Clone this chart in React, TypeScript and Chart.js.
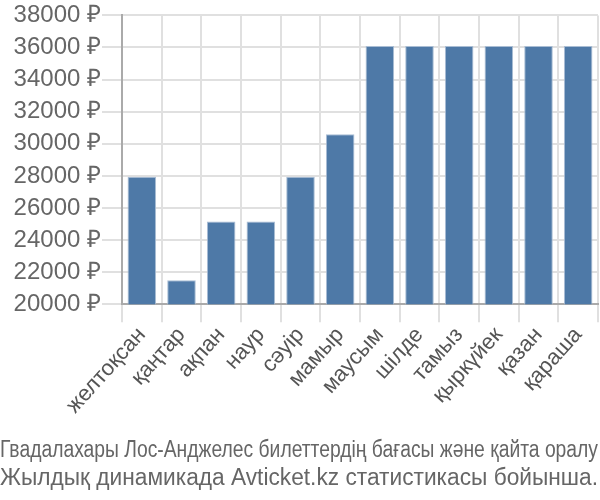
import React, { useEffect, useRef } from "react";
import { Chart, registerables } from "chart.js";

Chart.register(...registerables);

const categories = ["желтоқсан", "қаңтар", "ақпан", "наур", "сәуір", "мамыр", "маусым", "шілде", "тамыз", "қыркүйек", "қазан", "қараша"];
const prices = [27950, 21500, 25150, 25150, 27950, 30600, 36100, 36100, 36100, 36100, 36100, 36100];
const titleLines = [
  "Гвадалахары Лос-Анджелес билеттердің бағасы және қайта оралу",
  "Жылдық динамикада Avticket.kz статистикасы бойынша.",
];
const yMin = 20000;
const yMax = 38000;
const yStep = 2000;

export default function App() {
  const ref = useRef<HTMLCanvasElement>(null);
  useEffect(() => {
    document.body.style.margin = "0";
    const chart = new Chart(ref.current!, {
      type: "bar",
      data: {
        labels: categories,
        datasets: [
          {
            data: prices,
            backgroundColor: "#4e79a7",
            borderColor: "#a9bdd4",
            borderWidth: 1,
          },
        ],
      },
      options: {
        responsive: false,
        animation: false,
        layout: { padding: { left: 0, right: 2, top: 4, bottom: 0 } },
        plugins: {
          legend: { display: false },
          tooltip: { enabled: false },
          title: {
            display: true,
            position: "bottom",
            text: titleLines,
            color: "#666",
            font: { family: "'Liberation Sans', Arial, sans-serif", size: 23, weight: "normal" },
            padding: { top: 18, bottom: 8 },
            lineHeight: 1.26,
          },
        },
        scales: {
          x: {
            grid: { color: "#e0e0e0", lineWidth: 2, offset: true, tickLength: 18 },
            border: { color: "#aaa", width: 2 },
            ticks: {
              color: "#555",
              font: { family: "'Liberation Sans', Arial, sans-serif", size: 22 },
              minRotation: 48,
              maxRotation: 48,
              padding: 0,
            },
          },
          y: {
            min: yMin,
            max: yMax,
            afterFit: (scale: any) => {
              scale.width = 122;
            },
            grid: { color: "#e0e0e0", lineWidth: 2, tickLength: 20 },
            border: { color: "#aaa", width: 2 },
            ticks: {
              stepSize: yStep,
              color: "#666",
              font: { family: "'Liberation Sans', Arial, sans-serif", size: 24 },
              padding: 1,
              callback: (v: any) => `${v} ₽`,
            },
          },
        },
      },
    });
    return () => chart.destroy();
  }, []);
  return (
    <div style={{ width: 600, height: 500 }}>
      <canvas ref={ref} width={600} height={500} />
    </div>
  );
}
